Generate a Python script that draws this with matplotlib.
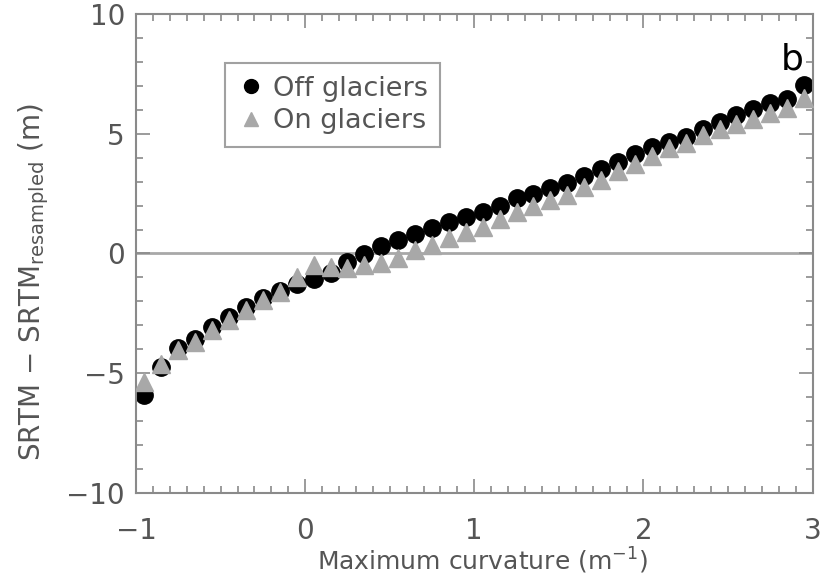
import numpy as np
import matplotlib.pyplot as plt
from matplotlib.ticker import MultipleLocator

# bin centres of maximum curvature (m^-1)
curv = [-0.95, -0.85, -0.75, -0.65, -0.55, -0.45, -0.35, -0.25, -0.15, -0.05,
        0.05, 0.15, 0.25, 0.35, 0.45, 0.55, 0.65, 0.75, 0.85, 0.95,
        1.05, 1.15, 1.25, 1.35, 1.45, 1.55, 1.65, 1.75, 1.85, 1.95,
        2.05, 2.15, 2.25, 2.35, 2.45, 2.55, 2.65, 2.75, 2.85, 2.95]

off_glaciers = [-5.9, -4.75, -3.95, -3.55, -3.05, -2.65, -2.25, -1.85, -1.55, -1.28,
                -1.08, -0.8, -0.35, -0.02, 0.3, 0.56, 0.8, 1.06, 1.32, 1.52,
                1.73, 2.0, 2.3, 2.5, 2.72, 2.94, 3.22, 3.52, 3.8, 4.15,
                4.45, 4.65, 4.88, 5.2, 5.48, 5.78, 6.05, 6.28, 6.45, 7.05]

on_glaciers = [-5.35, -4.6, -4.05, -3.7, -3.2, -2.78, -2.35, -1.95, -1.6, -1.0,
               -0.5, -0.55, -0.6, -0.5, -0.4, -0.2, 0.15, 0.35, 0.65, 0.88,
               1.1, 1.45, 1.73, 2.0, 2.23, 2.44, 2.78, 3.07, 3.45, 3.75,
               4.05, 4.4, 4.62, 4.95, 5.2, 5.42, 5.62, 5.88, 6.07, 6.5]

grey = "#a8a8a8"
axis_grey = "#8a8a8a"
text_grey = "#555555"

fig = plt.figure(figsize=(8.22, 5.83), dpi=100)
ax = fig.add_axes([0.1655, 0.1544, 0.823, 0.8216])

ax.axhline(0, color=grey, lw=2, zorder=1)
ax.plot(curv, off_glaciers, "o", color="black", ms=12.5, mec="black",
        label="Off glaciers", zorder=2)
ax.plot(curv, on_glaciers, "^", color=grey, ms=12.5, mec=grey,
        label="On glaciers", zorder=3)

ax.set_xlim(-1, 3)
ax.set_ylim(-10, 10)
ax.xaxis.set_major_locator(MultipleLocator(1))
ax.xaxis.set_minor_locator(MultipleLocator(0.1))
ax.yaxis.set_major_locator(MultipleLocator(5))
ax.yaxis.set_minor_locator(MultipleLocator(1))

ax.tick_params(which="both", direction="in", top=True, right=True,
               color=axis_grey, labelcolor=text_grey, labelsize=20)
ax.tick_params(which="major", length=10, width=1.2)
ax.tick_params(which="minor", length=5, width=1.2)
ax.tick_params(axis="x", pad=17)
ax.tick_params(axis="y", pad=8)
for s in ax.spines.values():
    s.set_color(axis_grey)
    s.set_linewidth(1.5)
ax.get_xticklabels()[-1].set_horizontalalignment("right")

ax.set_xlabel("Maximum curvature (m$^{-1}$)", fontsize=18, color=text_grey)
ax.xaxis.set_label_coords(0.5125, -0.11)
ax.set_ylabel(r"SRTM $-$ SRTM$_{\mathrm{resampled}}$ (m)", fontsize=20,
              color=text_grey)
ax.yaxis.set_label_coords(-0.125, 0.44)

leg = ax.legend(loc="upper left", bbox_to_anchor=(0.112, 0.925), fontsize=19.5,
                frameon=True, fancybox=False, handletextpad=0.3,
                borderpad=0.45, labelspacing=0.25, markerscale=0.8,
                handlelength=1.0)
leg.get_frame().set_edgecolor(axis_grey)
leg.get_frame().set_linewidth(1.5)
for t in leg.get_texts():
    t.set_color(text_grey)

ax.text(0.97, 0.905, "b", transform=ax.transAxes, fontsize=26, ha="center",
        va="center", color="black")

fig.savefig("out.png", dpi=100)
